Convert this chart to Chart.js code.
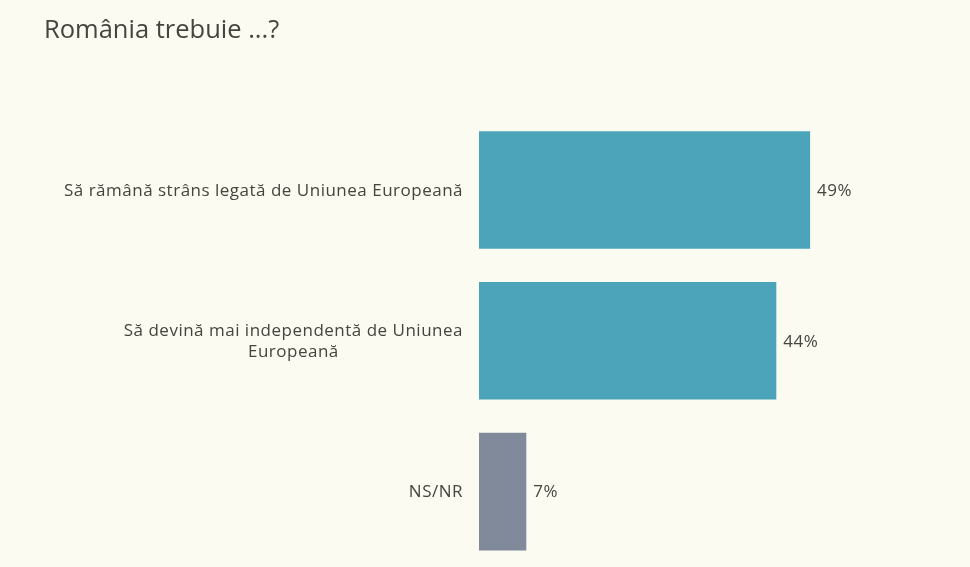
<!DOCTYPE html>
<html>
<head>
<meta charset="utf-8">
<script src="https://cdn.jsdelivr.net/npm/chart.js@4/dist/chart.umd.min.js"></script>
<style>
  html, body { margin: 0; padding: 0; background: #fbfbf2; }
  #wrap { width: 970px; height: 567px; position: relative; }
</style>
</head>
<body>
<div id="wrap"><canvas id="romaniaChart"></canvas></div>
<script>
const chartTitle = "România trebuie ...?";
const categories = [
    ["Să rămână strâns legată de Uniunea Europeană"],
    ["Să devină mai independentă de Uniunea", "Europeană"],
    ["NS/NR"]
];
const percentages = [49, 44, 7];
const barColors = ["#4ba4b9", "#4ba4b9", "#808a9b"];

const FONT = "'Open Sans', sans-serif";
const TEXT_COLOR = "#45453f";

// draws the category labels right-aligned, with wrapped lines centred on each other
const categoryLabels = {
    id: "categoryLabels",
    afterDraw(chart) {
        const c = chart.ctx;
        const yScale = chart.scales.y;
        const rightEdge = chart.chartArea.left - 16;
        c.save();
        c.font = "17px " + FONT;
        c.letterSpacing = "0.5px";
        c.fillStyle = TEXT_COLOR;
        c.textBaseline = "middle";
        c.textAlign = "center";
        const lineHeight = 21;
        categories.forEach((lines, i) => {
            const widest = Math.max(...lines.map(l => c.measureText(l).width));
            const cx = rightEdge - widest / 2;
            const yc = yScale.getPixelForValue(i) + 1;
            const top = yc - (lines.length - 1) * lineHeight / 2;
            lines.forEach((l, j) => c.fillText(l, cx, top + j * lineHeight));
        });
        c.restore();
    }
};

// value labels at the end of each bar
const valueLabels = {
    id: "valueLabels",
    afterDatasetsDraw(chart) {
        const c = chart.ctx;
        const meta = chart.getDatasetMeta(0);
        c.save();
        c.font = "17px " + FONT;
        c.letterSpacing = "0.5px";
        c.fillStyle = TEXT_COLOR;
        c.textBaseline = "middle";
        c.textAlign = "left";
        meta.data.forEach((bar, i) => {
            c.fillText(percentages[i] + "%", bar.x + 7, bar.y + 1);
        });
        c.restore();
    }
};

new Chart(document.getElementById("romaniaChart"), {
    type: "bar",
    data: {
        labels: categories,
        datasets: [{
            data: percentages,
            backgroundColor: barColors,
            borderWidth: 0,
            barPercentage: 0.78,
            categoryPercentage: 1
        }]
    },
    options: {
        indexAxis: "y",
        responsive: true,
        maintainAspectRatio: false,
        animation: false,
        layout: { padding: { left: 44, right: 18, top: 0, bottom: 0 } },
        scales: {
            x: { display: false, min: 0, max: 70 },
            y: {
                display: true,
                grid: { display: false },
                border: { display: false },
                ticks: { display: false },
                afterFit: (scale) => { scale.width = 435; }
            }
        },
        plugins: {
            legend: { display: false },
            tooltip: { enabled: false },
            title: {
                display: true,
                text: chartTitle,
                align: "start",
                color: TEXT_COLOR,
                font: { family: FONT, size: 25.5, weight: "normal" },
                padding: { top: 15, bottom: 69 }
            }
        }
    },
    plugins: [categoryLabels, valueLabels]
});
</script>
</body>
</html>
